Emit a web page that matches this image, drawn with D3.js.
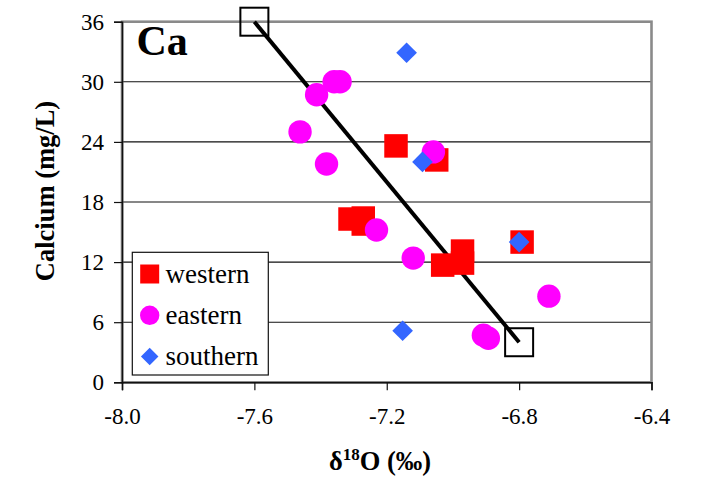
<!DOCTYPE html>
<html>
<head>
<meta charset="utf-8">
<script src="https://cdn.jsdelivr.net/npm/d3@7"></script>
<style>
  html, body { margin: 0; padding: 0; background: #fff; }
  svg { display: block; }
  svg text { font-family: "Liberation Serif", "Times New Roman", "DejaVu Serif", serif !important; fill: #000; }
</style>
</head>
<body>
<svg id="chart" width="706" height="485"></svg>
<script>
// Calcium vs. oxygen isotope ratio, by sampling region
const western = [
  [-7.172, 23.6], [-7.049, 22.2], [-7.311, 16.3], [-7.271, 16.4], [-7.271, 15.8],
  [-7.031, 11.7], [-6.971, 13.1], [-6.971, 11.9], [-6.791, 14.0]
];
const eastern = [
  [-7.412, 28.7], [-7.359, 30.0], [-7.341, 30.0], [-7.462, 25.0], [-7.382, 21.8],
  [-7.059, 23.0], [-7.231, 15.2], [-7.120, 12.4], [-6.710, 8.6], [-6.908, 4.7], [-6.893, 4.4]
];
const southern = [
  [-7.140, 32.9], [-7.092, 22.0], [-6.800, 14.0], [-7.152, 5.15]
];
// mixing line between the two end members
const mixingLine = [[-7.6, 36], [-6.8, 4]];

const xTicks = [-8.0, -7.6, -7.2, -6.8, -6.4];
const yTicks = [0, 6, 12, 18, 24, 30, 36];
const seriesNames = ["western", "eastern", "southern"];
const seriesColors = ["#FF0000", "#FF00FF", "#3366FF"];

const serif = "'Liberation Serif', 'Times New Roman', 'DejaVu Serif', serif";

const svg = d3.select("#chart");
const x = d3.scaleLinear().domain([-8.0, -6.4]).range([122, 651.5]);
const y = d3.scaleLinear().domain([0, 36]).range([382.3, 21.7]);
const [x0, x1] = x.range();
const [y0, y1] = y.range();

// gridlines
svg.append("g")
  .selectAll("line")
  .data(yTicks.filter(d => d > 0 && d < 36))
  .join("line")
  .attr("x1", x0).attr("x2", x1)
  .attr("y1", d => y(d)).attr("y2", d => y(d))
  .attr("stroke", "#111").attr("stroke-width", 1.1);

// plot-area frame
svg.append("rect")
  .attr("x", x0).attr("y", y1)
  .attr("width", x1 - x0).attr("height", y0 - y1)
  .attr("fill", "none").attr("stroke", "#8a8a8a").attr("stroke-width", 2.6);

// axes
const yAxis = svg.append("g")
  .attr("transform", `translate(${x0},0)`)
  .call(d3.axisLeft(y).tickValues(yTicks).tickSize(8).tickPadding(10).tickFormat(d3.format("d")));
const xAxis = svg.append("g")
  .attr("transform", `translate(0,${y0})`)
  .call(d3.axisBottom(x).tickValues(xTicks).tickSize(8).tickPadding(17).tickFormat(d3.format(".1f")));

[yAxis, xAxis].forEach(g => {
  g.attr("font-family", serif).attr("font-size", 23);
  g.select(".domain").attr("stroke", "#111").attr("stroke-width", 1.6);
  g.selectAll(".tick line").attr("stroke", "#111").attr("stroke-width", 1.2);
  g.selectAll(".tick text")
    .style("font-family", serif)
    .attr("font-size", 23).attr("fill", "#000");
});
// use a hyphen for negative tick values
xAxis.selectAll(".tick text").text(d => d3.format(".1f")(d).replace("−", "-"));

// mixing line with open end-member squares
svg.append("path")
  .datum(mixingLine)
  .attr("d", d3.line().x(d => x(d[0])).y(d => y(d[1])))
  .attr("stroke", "#000").attr("stroke-width", 4).attr("fill", "none");
svg.append("g")
  .selectAll("rect")
  .data(mixingLine)
  .join("rect")
  .attr("x", d => x(d[0]) - 14).attr("y", d => y(d[1]) - 14)
  .attr("width", 28).attr("height", 28)
  .attr("fill", "none").attr("stroke", "#000").attr("stroke-width", 2);

// markers
const sym = {
  western: d3.symbol().type(d3.symbolSquare).size(23.5 * 23.5),
  eastern: d3.symbol().type(d3.symbolCircle).size(Math.PI * 11.7 * 11.7),
  southern: d3.symbol().type(d3.symbolDiamond2).size(16.5 * 16.5)
};
[western, eastern, southern].forEach((data, i) => {
  svg.append("g")
    .selectAll("path")
    .data(data)
    .join("path")
    .attr("transform", d => `translate(${x(d[0])},${y(d[1])})`)
    .attr("d", sym[seriesNames[i]]())
    .attr("fill", seriesColors[i]);
});

// panel label
svg.append("text")
  .attr("x", 136.5).attr("y", 55)
  .style("font-family", serif)
  .attr("font-size", 42).attr("font-weight", "bold")
  .text("Ca");

// legend
const legend = svg.append("g");
legend.append("rect")
  .attr("x", 132.3).attr("y", 252.3)
  .attr("width", 136).attr("height", 122.7)
  .attr("fill", "#fff").attr("stroke", "#111").attr("stroke-width", 1.2);
const legSym = {
  western: d3.symbol().type(d3.symbolSquare).size(19 * 19),
  eastern: d3.symbol().type(d3.symbolCircle).size(Math.PI * 9.7 * 9.7),
  southern: d3.symbol().type(d3.symbolDiamond2).size(14 * 14)
};
seriesNames.forEach((name, i) => {
  const cy = 274 + i * 41.3;
  legend.append("path")
    .attr("transform", `translate(149.7,${cy})`)
    .attr("d", legSym[name]())
    .attr("fill", seriesColors[i]);
  legend.append("text")
    .attr("x", 165.5).attr("y", cy + 8.5)
    .style("font-family", serif)
    .attr("font-size", 27)
    .text(name);
});

// axis titles
svg.append("text")
  .attr("transform", "translate(53.5,191) rotate(-90)")
  .attr("text-anchor", "middle")
  .style("font-family", serif)
  .attr("font-size", 26.5).attr("font-weight", "bold")
  .text("Calcium (mg/L)");

const xt = svg.append("text")
  .attr("x", 380).attr("y", 470)
  .attr("text-anchor", "middle")
  .style("font-family", serif)
  .attr("font-size", 26.5).attr("font-weight", "bold");
xt.append("tspan").text("δ");
xt.append("tspan").attr("font-size", 17).attr("dy", -10).text("18");
xt.append("tspan").attr("dy", 10).text("O (‰)");
</script>
</body>
</html>
